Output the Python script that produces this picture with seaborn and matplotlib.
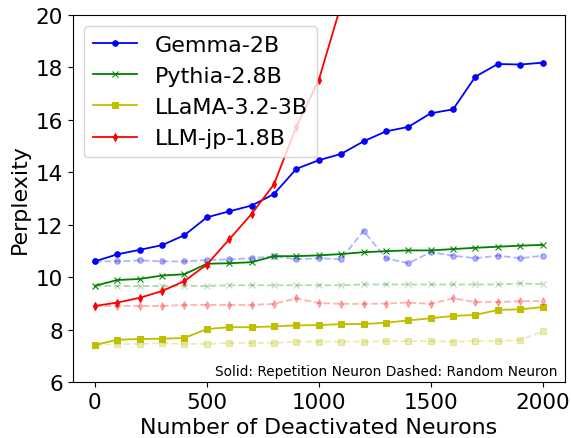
import numpy as np
import pandas as pd
import matplotlib
matplotlib.use("Agg")
import matplotlib.pyplot as plt
import seaborn as sns

# Number of deactivated neurons
neurons = list(range(0, 2001, 100))

# Solid: repetition neurons deactivated
gemma_rep = [10.60, 10.87, 11.04, 11.22, 11.60, 12.28, 12.51, 12.73, 13.17, 14.13, 14.46,
             14.70, 15.18, 15.56, 15.73, 16.25, 16.40, 17.65, 18.13, 18.11, 18.18]
pythia_rep = [9.67, 9.89, 9.93, 10.06, 10.11, 10.51, 10.53, 10.57, 10.80, 10.80, 10.83,
              10.88, 10.95, 10.99, 11.02, 11.02, 11.07, 11.12, 11.16, 11.20, 11.23]
llama_rep = [7.41, 7.61, 7.64, 7.65, 7.68, 8.02, 8.09, 8.09, 8.12, 8.16, 8.17,
             8.21, 8.21, 8.26, 8.35, 8.43, 8.52, 8.56, 8.75, 8.77, 8.86]
llmjp_rep = [8.90, 9.03, 9.21, 9.47, 9.85, 10.48, 11.44, 12.41, 13.54, 15.74, 17.52,
             20.40, 23.5, 27.0, 31.0, 35.5, 40.0, 45.0, 50.0, 56.0, 62.0]

# Dashed: random neurons deactivated
gemma_rand = [10.60, 10.60, 10.64, 10.60, 10.60, 10.65, 10.68, 10.72, 10.80, 10.68, 10.72,
              10.68, 11.77, 10.72, 10.53, 10.95, 10.82, 10.72, 10.82, 10.72, 10.82]
pythia_rand = [9.67, 9.66, 9.66, 9.66, 9.67, 9.66, 9.69, 9.69, 9.69, 9.69, 9.69,
               9.69, 9.72, 9.72, 9.72, 9.72, 9.72, 9.72, 9.72, 9.76, 9.73]
llama_rand = [7.41, 7.45, 7.45, 7.49, 7.45, 7.45, 7.49, 7.49, 7.49, 7.54, 7.54,
              7.54, 7.54, 7.56, 7.56, 7.56, 7.54, 7.56, 7.56, 7.60, 7.93]
llmjp_rand = [8.90, 8.90, 8.90, 8.90, 8.94, 8.94, 8.94, 8.94, 8.98, 9.19, 9.01,
              8.98, 8.98, 8.99, 9.03, 8.98, 9.19, 9.05, 9.05, 9.08, 9.09]

models = ["Gemma-2B", "Pythia-2.8B", "LLaMA-3.2-3B", "LLM-jp-1.8B"]
rep_values = [gemma_rep, pythia_rep, llama_rep, llmjp_rep]
rand_values = [gemma_rand, pythia_rand, llama_rand, llmjp_rand]
colors = ["b", "g", "y", "r"]
markers = ["o", "x", "s", "d"]

fig, ax = plt.subplots(figsize=(5.71, 4.39), dpi=100)

for name, rep, rnd, c, m in zip(models, rep_values, rand_values, colors, markers):
    sns.lineplot(x=neurons, y=rep, ax=ax, color=c, marker=m, markersize=4,
                 markeredgecolor=c, linewidth=1.3, label=name)
    sns.lineplot(x=neurons, y=rnd, ax=ax, color=c, marker=m, markersize=4,
                 markeredgecolor=c, linewidth=1.3, linestyle="--", alpha=0.3)

ax.set_xlim(-100, 2100)
ax.set_ylim(6, 20)
ax.set_xticks([0, 500, 1000, 1500, 2000])
ax.set_yticks([6, 8, 10, 12, 14, 16, 18, 20])
ax.tick_params(labelsize=15.5)
ax.set_xlabel("Number of Deactivated Neurons", fontsize=15.9)
ax.set_ylabel("Perplexity", fontsize=15.9)
ax.text(0.985, 0.012, "Solid: Repetition Neuron Dashed: Random Neuron",
        transform=ax.transAxes, ha="right", va="bottom", fontsize=9.8)
ax.legend(loc="upper left", fontsize=16)

fig.subplots_adjust(left=0.127, right=0.9895, bottom=0.1276, top=0.9636)
fig.savefig("out.png", dpi=100)
